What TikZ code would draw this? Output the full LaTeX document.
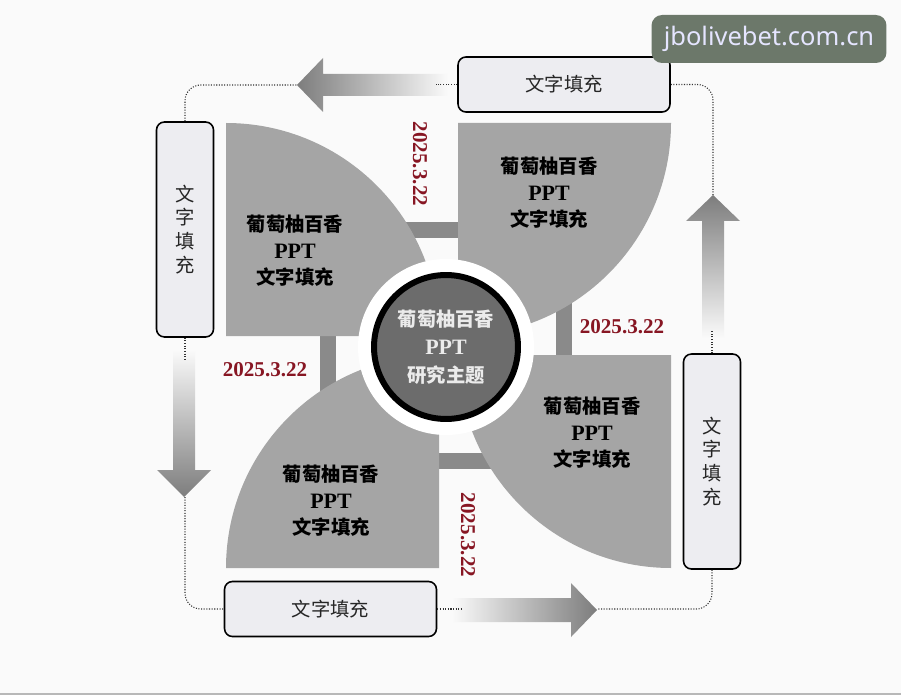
\documentclass[tikz,border=0pt]{standalone}
\usepackage{fontspec}
\setmainfont{Liberation Serif}
\newfontfamily\cjk{Noto Sans CJK SC}
\newfontfamily\wmfont{Noto Sans}
\newcommand\pptword{{\rmfamily\fontsize{12.5}{15}\selectfont PPT}}
\definecolor{piecegray}{RGB}{165,165,165}
\definecolor{bargray}{RGB}{138,138,138}
\definecolor{coregray}{RGB}{108,108,108}
\definecolor{boxfill}{RGB}{237,237,241}
\definecolor{arrowgray}{RGB}{125,125,125}
\definecolor{datered}{RGB}{135,22,35}
\definecolor{wmgreen}{RGB}{108,120,106}
\definecolor{bggray}{RGB}{250,250,250}

\begin{document}
\begin{tikzpicture}[
  x=0.02cm, y=-0.02cm,
  textbox/.style={draw, line width=0.9pt, rounded corners=4.5pt, fill=boxfill, inner sep=0pt,
                  align=center, text=black!85, font=\cjk\fontsize{11}{13.6}\selectfont},
  hbox/.style={textbox, minimum width=4.24cm, minimum height=1.1cm},
  vbox/.style={textbox, minimum width=1.14cm, minimum height=4.3cm},
  piece/.style={fill=piecegray},
  piecetext/.style={align=center, font=\cjk\bfseries\fontsize{11}{15}\selectfont},
  datelabel/.style={text=datered, font=\bfseries\fontsize{12}{14}\selectfont},
  dotline/.style={draw=black!80, line width=0.6pt, dash pattern=on 0.6pt off 0.9pt, rounded corners=9pt},
  wmark/.style={fill=wmgreen, rounded corners=6pt, minimum width=4.7cm, minimum height=0.96cm,
                text=white!90!blue, font=\wmfont\fontsize{14.5}{16}\selectfont}
]
  \fill[bggray] (0,0) rectangle (901,695);
  \fill[black!28] (0,692.5) rectangle (901,695);
  \useasboundingbox (0,0) rectangle (901,695);

  % frame behind the four pieces
  \draw[bargray, line width=0.32cm] (328,230) rectangle (564,461);

  % four quarter pieces
  \fill[piece] (226,336) -- (226,123) arc[start angle=-90, end angle=0, radius=213] -- cycle;
  \fill[piece] (458,123) -- (671,123) arc[start angle=0, end angle=90, radius=213] -- cycle;
  \fill[piece] (671,355) -- (671,568) arc[start angle=90, end angle=180, radius=213] -- cycle;
  \fill[piece] (439,568) -- (226,568) arc[start angle=180, end angle=270, radius=213] -- cycle;

  % centre
  \fill[white] (446,347) circle[radius=88];
  \node[circle, draw=black, line width=0.12cm, fill=coregray, minimum size=2.88cm, inner sep=0pt,
        text=white!92!black, align=center, font=\cjk\bfseries\fontsize{11}{16}\selectfont]
        (core) at (446,347) {葡萄柚百香\\\pptword\\研究主题};

  \node[piecetext] (tlt) at (295,251) {葡萄柚百香\\\pptword\\文字填充};
  \node[piecetext] (trt) at (549,193) {葡萄柚百香\\\pptword\\文字填充};
  \node[piecetext] (brt) at (592,433) {葡萄柚百香\\\pptword\\文字填充};
  \node[piecetext] (blt) at (331,501) {葡萄柚百香\\\pptword\\文字填充};

  \node[datelabel, rotate=-90] (d1) at (420,164) {2025.3.22};
  \node[datelabel] (d2) at (622,327) {2025.3.22};
  \node[datelabel] (d3) at (265,370) {2025.3.22};
  \node[datelabel, rotate=-90] (d4) at (468,535) {2025.3.22};

  % boxes
  \node[hbox] (tbox) at (564,84.5) {文字填充};
  \node[vbox] (lbox) at (185,229.5) {文\\字\\填\\充};
  \node[vbox] (rbox) at (712,461.5) {文\\字\\填\\充};
  \node[hbox] (bbox) at (330.5,609) {文字填充};

  % big arrows
  \shade[left color=arrowgray, right color=bggray]
    (297,85) -- (323,58) -- (323,74) -- (448,74) -- (448,96) -- (323,96) -- (323,112) -- cycle;
  \shade[top color=arrowgray, bottom color=bggray]
    (713,195) -- (740,221) -- (724,221) -- (724,338) -- (702,338) -- (702,221) -- (686,221) -- cycle;
  \shade[left color=bggray, right color=arrowgray]
    (597,610) -- (571,583) -- (571,598) -- (452,598) -- (452,622) -- (571,622) -- (571,637) -- cycle;
  \shade[top color=bggray, bottom color=arrowgray]
    (184,497) -- (211,470) -- (195,470) -- (195,350) -- (173,350) -- (173,470) -- (157,470) -- cycle;
  \coordinate (ttip) at (297,85);
  \coordinate (rtip) at (713,195);
  \coordinate (btip) at (597,609);
  \coordinate (ltip) at (185,497);
  \coordinate (ttail) at (436,84.5);
  \coordinate (rtail) at (712,331);
  \coordinate (btail) at (462,609);
  \coordinate (ltail) at (185,361);

  % dotted links
  \draw[dotline] (lbox.north) |- (ttip);
  \draw[dotline] (tbox.east) -| (rtip);
  \draw[dotline] (rbox.south) |- (btip);
  \draw[dotline] (ltip) |- (bbox.west);
  \draw[dotline] (tbox.west) -- (ttail);
  \draw[dotline] (rbox.north) -- (rtail);
  \draw[dotline] (bbox.east) -- (btail);
  \draw[dotline] (lbox.south) -- (ltail);

  \node[wmark] (wm) at (769,39) {jbolivebet.com.cn};
\end{tikzpicture}
\end{document}
